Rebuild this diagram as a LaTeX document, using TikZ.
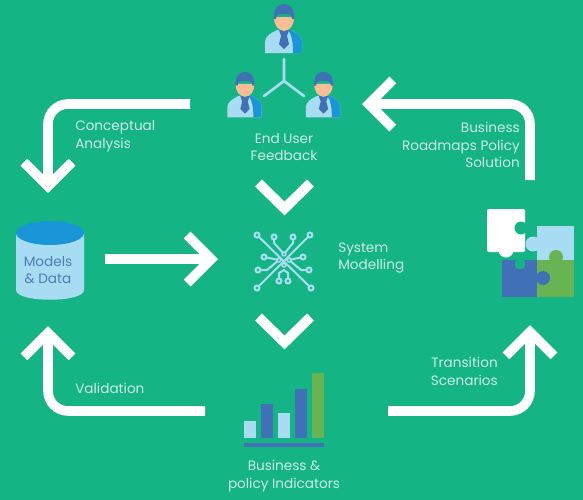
\documentclass[tikz,border=0pt]{standalone}
\usepackage{fontspec}
\setmainfont{Poppins}
\usepackage{tikz}
\usetikzlibrary{arrows.meta}
\definecolor{cfond}{RGB}{20,180,133}
\definecolor{ctexte}{RGB}{205,240,228}
\definecolor{cclair}{RGB}{167,220,242}
\definecolor{cbleu}{RGB}{64,112,182}
\definecolor{cazur}{RGB}{24,150,216}
\definecolor{cvert}{RGB}{104,180,82}
\definecolor{cpeau}{RGB}{250,190,150}
\definecolor{ctitre}{RGB}{75,125,190}
\tikzset{
  lab/.style={text=ctexte,font=\fontsize{10.2}{13.4}\selectfont,inner sep=0pt},
  flow/.style={white,line width=7.2pt,rounded corners=15pt,-{Straight Barb[length=18pt,width=36pt,line width=7.2pt]}},
  chev/.style={white,line width=7.4pt,miter limit=10},
  circuit/.style={cclair,line width=1.5pt},
  user/.pic={
    \fill[cclair] (-19,24) -- (-19,14) .. controls (-19,6) and (-12,4) .. (-7,1) -- (7,1) .. controls (12,4) and (18,6) .. (18,14) -- (18,24) -- cycle;
    \fill[cazur] (9,24) .. controls (9,14) and (8,6) .. (4,1) -- (7,1) .. controls (12,4) and (18,6) .. (18,14) -- (18,24) -- cycle;
    \fill[cbleu] (-5,1) -- (5,1) -- (3,7) -- (5,15) -- (0,20) -- (-5,15) -- (-3,7) -- cycle;
    \fill[cpeau] (-10,-12) -- (10,-12) .. controls (10,-3) and (6,1) .. (0,2) .. controls (-6,1) and (-10,-3) .. (-10,-12) -- cycle;
    \fill[cbleu] (-10,-10) .. controls (-11,-20) and (-6,-25) .. (0,-25) .. controls (6,-25) and (11,-20) .. (10,-10) -- (8,-10) .. controls (8,-13) and (7,-14) .. (5,-15) -- (-5,-15) .. controls (-7,-14) and (-8,-13) .. (-8,-10) -- cycle;
  }
}

\begin{document}
\begin{tikzpicture}[x=0.75pt,y=-0.75pt]
\useasboundingbox[fill=cfond] (0,0) rectangle (583,500);

% arrows
\coordinate (TLa) at (190,104); \coordinate (TLb) at (48,104); \coordinate (TLc) at (48,193);
\coordinate (TRa) at (530,180); \coordinate (TRb) at (530,104); \coordinate (TRc) at (362,104);
\coordinate (BLa) at (205,411); \coordinate (BLb) at (48,411); \coordinate (BLc) at (48,326);
\coordinate (BRa) at (388,411); \coordinate (BRb) at (530,411); \coordinate (BRc) at (530,325);
\coordinate (Ma) at (105,259); \coordinate (Mb) at (218,259);
\draw[flow] (TLa) -- (TLb) -- (TLc);
\draw[flow] (TRa) -- (TRb) -- (TRc);
\draw[flow] (BLa) -- (BLb) -- (BLc);
\draw[flow] (BRa) -- (BRb) -- (BRc);
\draw[flow] (Ma) -- (Mb);
\draw[chev] (258.5,183) -- (284.5,208.5) -- (310.5,183);
\draw[chev] (258.5,317) -- (284.5,342.5) -- (310.5,317);

% users
\pic at (284,29) {user};
\pic[scale=0.93] at (245,95) {user};
\pic[scale=0.93] at (323.5,95) {user};
\draw[cclair,line width=2pt,line cap=round,line join=round] (284,59) -- (284,81) (264,96) -- (284,81) -- (304,96);

% database
\fill[cclair] (16,233) -- (16,290) .. controls (16,303) and (84,303) .. (84,290) -- (84,233) -- cycle;
\fill[cazur] (50,233) ellipse (34 and 12);
\node[lab,text=ctitre,align=center] (models) at (48,270) {Models\\\& Data};

% system modelling
\draw[circuit] (257,235) -- (311,288) (310,235) -- (257,288);
\draw[circuit] (274,237) -- (274,243) -- (284,254) -- (293,243) -- (293,237);
\draw[circuit] (264,257) -- (279,260) (303,257) -- (289,260);
\draw[circuit] (258,270) -- (267,270) -- (279,260) (309,270) -- (301,270) -- (289,260);
\draw[circuit] (279,281) -- (279,273) -- (284,270) -- (288,273) -- (288,281);
\foreach \p/\q in {257/235,274/237,293/237,310/235,264/257,303/257,258/270,309/270,257/288,311/288,279/281,288/281}
  {\fill[cclair] (\p,\q) circle (3.6); \fill[cfond] (\p,\q) circle (1.3);}
\foreach \p/\q in {279/260,289/260,284/254,284/265}
  {\fill[cclair] (\p,\q) circle (2.8); \fill[cfond] (\p,\q) circle (1);}

% puzzle
\fill[white,rounded corners=1pt] (487,209) rectangle (525,252);
\fill[white] (506,250) circle (7.5);
\fill[cfond] (521,228) circle (6.5);
\fill[cfond] (525,224) rectangle (530,232);
\fill[cclair] (537,226) rectangle (574,260);
\fill[cclair] (533,244) circle (7.5);
\fill[cbleu] (502,260) rectangle (537,297);
\fill[cfond] (520,264) circle (5.5);
\fill[cvert] (537,260) rectangle (574,297);
\fill[cvert] (556,257) circle (7);
\fill[cbleu] (543,278) circle (7);

% bars
\fill[cclair] (244,421) rectangle (256,438);
\fill[cbleu] (261,404) rectangle (273,438);
\fill[cclair] (278,413) rectangle (290,438);
\fill[cbleu] (295,389) rectangle (307,438);
\fill[cvert] (312,373) rectangle (324,438);
\fill[cbleu] (244,443) rectangle (324,447);

% labels
\node[lab,align=center] (feedback) at (284,147) {End User\\Feedback};
\node[lab,align=left,anchor=west] (conceptual) at (75,136) {Conceptual\\Analysis};
\node[lab,align=right,anchor=east] (roadmaps) at (520,145) {Business\\Roadmaps Policy\\Solution};
\node[lab,align=left,anchor=west] (system) at (338,258) {System\\Modelling};
\node[lab,anchor=west] (validation) at (75,388) {Validation};
\node[lab,align=right,anchor=east] (transition) at (498,371) {Transition\\Scenarios};
\node[lab,align=center] (indicators) at (284,476) {Business \&\\policy Indicators};
\end{tikzpicture}
\end{document}
